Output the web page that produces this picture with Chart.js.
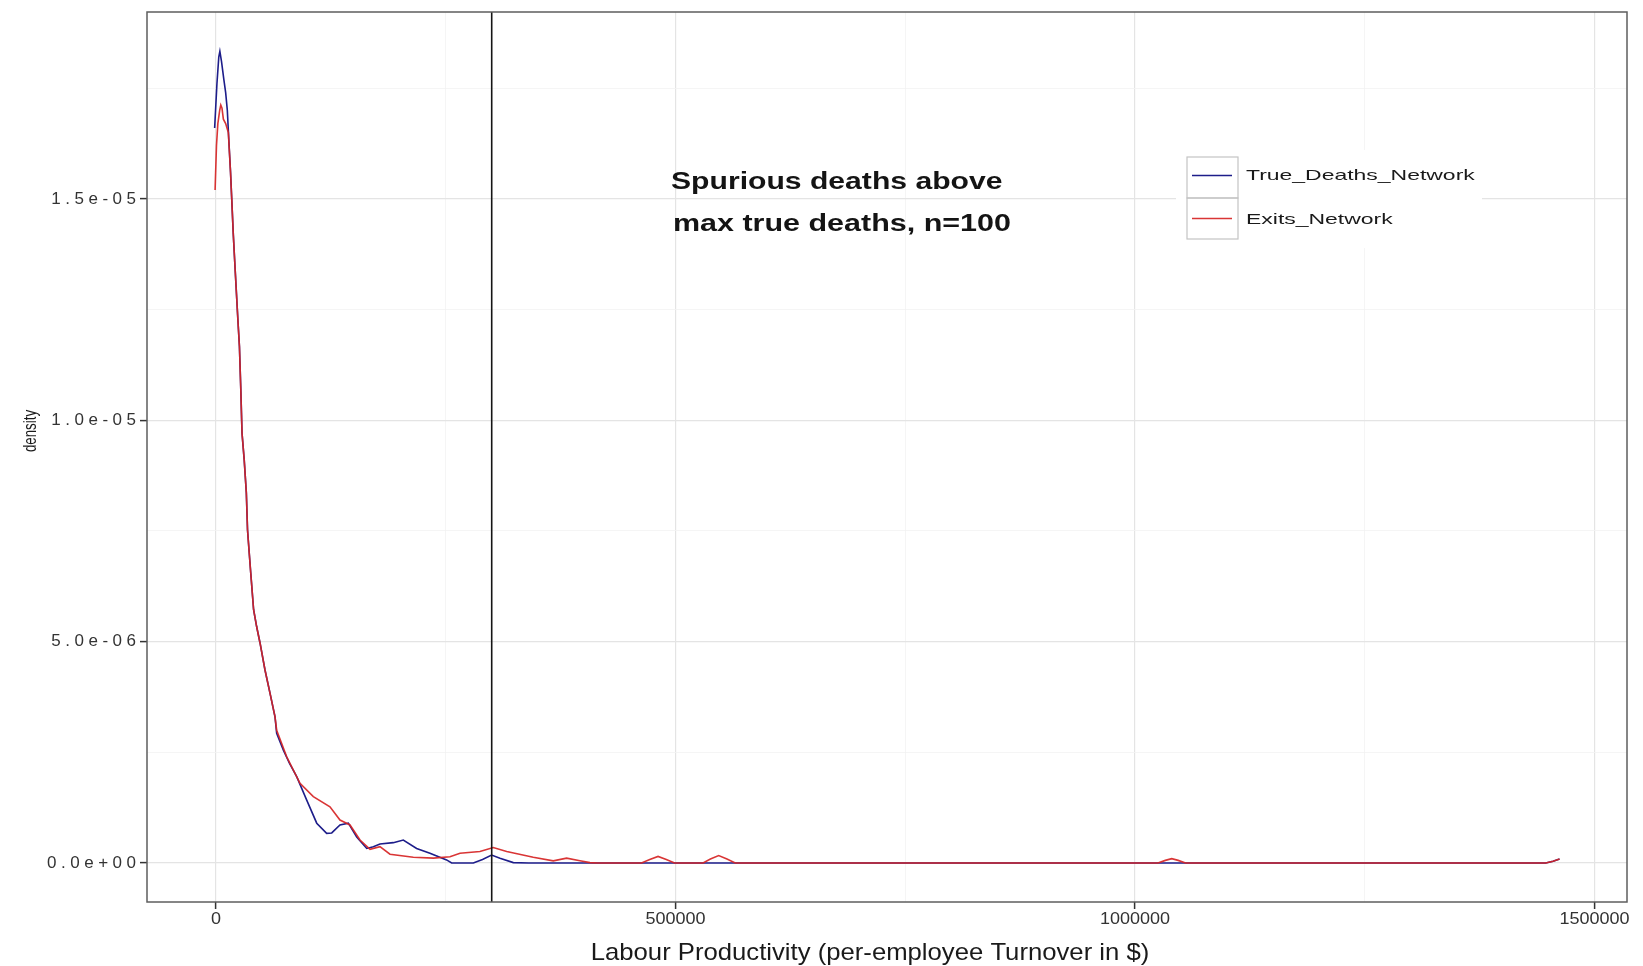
<!DOCTYPE html>
<html>
<head>
<meta charset="utf-8">
<script src="https://cdn.jsdelivr.net/npm/chart.js@4.4.1/dist/chart.umd.min.js"></script>
<style>
  html, body { margin: 0; padding: 0; background: #ffffff; }
  #wrap { width: 1643px; height: 966px; }
</style>
</head>
<body>
<div id="wrap"><canvas id="c" width="1643" height="966"></canvas></div>
<script>
// ---------- DATA ----------
const seriesNames = ['True_Deaths_Network', 'Exits_Network'];

// True_Deaths_Network density curve (density in units of 1e-6)
const trueDeathsX = [-1500, 1000, 3000, 4200, 6000, 8500, 10500, 12300, 14000, 15800, 17100, 18800, 20700, 23800, 25500, 27000, 28300, 30700, 33000, 34300, 35900, 37800, 40900, 44300, 47900, 53300, 58800, 64200, 66000, 73300, 80000, 87800, 98700, 109600, 120400, 125900, 134900, 144000, 153100, 164000, 171200, 178400, 192900, 203800, 218300, 232800, 250900, 256400, 280000, 290000, 299900, 309000, 323500, 340000, 1447000, 1455000, 1462000];
const trueDeathsY = [16.6, 17.6, 18.2, 18.33, 18.1, 17.7, 17.4, 17.0, 16.3, 15.6, 15.0, 14.2, 13.45, 12.27, 11.66, 10.68, 9.71, 9.10, 8.36, 7.52, 7.07, 6.55, 5.72, 5.33, 4.97, 4.36, 3.83, 3.30, 2.93, 2.55, 2.25, 1.95, 1.42, 0.90, 0.67, 0.68, 0.86, 0.90, 0.59, 0.33, 0.37, 0.43, 0.46, 0.52, 0.33, 0.22, 0.07, 0.0, 0.0, 0.08, 0.18, 0.11, 0.01, 0.0, 0.0, 0.04, 0.09];

// Exits_Network density curve (density in units of 1e-6)
const exitsX = [-1000, 500, 2000, 4000, 5200, 6500, 8000, 10500, 13400, 15800, 17100, 18800, 20700, 23800, 25500, 27000, 28300, 30700, 33000, 34300, 35900, 37800, 40900, 44300, 47900, 53300, 58800, 64200, 66000, 76900, 91400, 105900, 124000, 134900, 145800, 156700, 167600, 178400, 189300, 214700, 236500, 254600, 265500, 287200, 301700, 316300, 345200, 367000, 381500, 396000, 406900, 415000, 463000, 472000, 481000, 490000, 499000, 530000, 538000, 547000, 556000, 565000, 1025000, 1033000, 1040000, 1047000, 1055000, 1447000, 1455000, 1462000];
const exitsY = [15.2, 16.2, 16.7, 17.0, 17.12, 17.05, 16.8, 16.7, 16.5, 15.6, 15.0, 14.2, 13.45, 12.27, 11.66, 10.68, 9.71, 9.10, 8.36, 7.52, 7.07, 6.55, 5.72, 5.33, 4.97, 4.36, 3.83, 3.30, 3.00, 2.40, 1.80, 1.50, 1.27, 0.97, 0.86, 0.52, 0.31, 0.37, 0.20, 0.13, 0.11, 0.14, 0.22, 0.26, 0.35, 0.26, 0.13, 0.05, 0.11, 0.05, 0.01, 0.0, 0.0, 0.08, 0.15, 0.08, 0.0, 0.0, 0.09, 0.17, 0.09, 0.0, 0.0, 0.06, 0.10, 0.06, 0.0, 0.0, 0.04, 0.09];
const densityUnit = 1e-6;

// axis ticks / grid
const xTickValues = [0, 500000, 1000000, 1500000];
const xTickLabels = ['0', '500000', '1000000', '1500000'];
const xMinorValues = [250000, 750000, 1250000];
const yTickValues = [0, 5e-6, 1e-5, 1.5e-5];
const yTickLabels = ['0.0e+00', '5.0e-06', '1.0e-05', '1.5e-05'];
const yMinorValues = [2.5e-6, 7.5e-6, 1.25e-5, 1.75e-5];
const xRange = [-75100, 1535400];
const yRange = [-0.88e-6, 19.22e-6];

const cutoffX = 300000;
const annotationLines = ['Spurious deaths above', 'max true deaths, n=100'];
const xTitle = 'Labour Productivity (per-employee Turnover in $)';
const yTitle = 'density';

// ---------- STYLE ----------
const BLUE = '#1d1d8a';
const RED = 'rgba(214,36,36,0.92)';
const FONT = '"Liberation Sans", Arial, sans-serif';

function toPoints(xs, ys) { return xs.map((x, i) => ({ x: x, y: ys[i] * densityUnit })); }

function drawText(ctx, text, x, y, o) {
  ctx.save();
  ctx.font = o.font;
  ctx.fillStyle = o.color || '#000';
  ctx.textBaseline = o.baseline || 'middle';
  ctx.translate(x, y);
  if (o.rotate) ctx.rotate(o.rotate);
  ctx.scale(o.sx || 1, 1);
  const sp = o.spacing || 0;
  const chars = Array.from(text);
  const ws = chars.map(ch => ctx.measureText(ch).width);
  let w = sp ? ws.reduce((a, b) => a + b, 0) + sp * (chars.length - 1) : ctx.measureText(text).width;
  let start = o.align === 'right' ? -w : (o.align === 'center' ? -w / 2 : 0);
  ctx.textAlign = 'left';
  if (!sp) {
    ctx.fillText(text, start, 0);
  } else {
    let cx = start;
    chars.forEach((ch, i) => { ctx.fillText(ch, cx, 0); cx += ws[i] + sp; });
  }
  ctx.restore();
}

const decorPlugin = {
  id: 'decor',
  afterDatasetsDraw(chart) {
    const ctx = chart.ctx, a = chart.chartArea;
    const xs = chart.scales.x;
    // vertical cutoff line
    const vx = xs.getPixelForValue(cutoffX);
    ctx.save();
    ctx.strokeStyle = '#151515';
    ctx.lineWidth = 1.6;
    ctx.beginPath(); ctx.moveTo(vx, a.top); ctx.lineTo(vx, a.bottom); ctx.stroke();
    // panel border
    ctx.strokeStyle = '#5e5e5e';
    ctx.lineWidth = 1.5;
    ctx.strokeRect(a.left, a.top, a.right - a.left, a.bottom - a.top);
    ctx.restore();
  },
  afterDraw(chart) {
    const ctx = chart.ctx;
    const xs = chart.scales.x, ys = chart.scales.y;
    // tick labels
    yTickValues.forEach((v, i) => {
      drawText(ctx, yTickLabels[i], 136, ys.getPixelForValue(v), { font: '17px ' + FONT, color: '#333333', align: 'right', spacing: 4.5 });
    });
    xTickValues.forEach((v, i) => {
      drawText(ctx, xTickLabels[i], xs.getPixelForValue(v), 919, { font: '17px ' + FONT, color: '#333333', align: 'center', sx: 1.06 });
    });
    // axis titles
    drawText(ctx, xTitle, 870, 953, { font: '24px ' + FONT, color: '#1a1a1a', align: 'center', sx: 1.07 });
    drawText(ctx, yTitle, 31, 431, { font: '18px ' + FONT, color: '#1a1a1a', align: 'center', rotate: -Math.PI / 2, sx: 0.74 });
    // annotation
    drawText(ctx, annotationLines[0], 671, 183, { font: 'bold 23px ' + FONT, color: '#141414', align: 'left', sx: 1.31 });
    drawText(ctx, annotationLines[1], 673, 225, { font: 'bold 23px ' + FONT, color: '#141414', align: 'left', sx: 1.325 });
    // legend
    ctx.save();
    ctx.fillStyle = '#ffffff';
    ctx.fillRect(1176, 150, 306, 98);
    ctx.strokeStyle = '#c4c4c4';
    ctx.lineWidth = 1.2;
    ctx.strokeRect(1187, 157, 51, 41);
    ctx.strokeRect(1187, 198, 51, 41);
    ctx.lineWidth = 1.6;
    ctx.strokeStyle = BLUE;
    ctx.beginPath(); ctx.moveTo(1192, 175.5); ctx.lineTo(1232, 175.5); ctx.stroke();
    ctx.strokeStyle = RED;
    ctx.beginPath(); ctx.moveTo(1192, 218.5); ctx.lineTo(1232, 218.5); ctx.stroke();
    ctx.restore();
    drawText(ctx, seriesNames[0], 1246, 176, { font: '15px ' + FONT, color: '#1a1a1a', align: 'left', sx: 1.53 });
    drawText(ctx, seriesNames[1], 1246, 220, { font: '15px ' + FONT, color: '#1a1a1a', align: 'left', sx: 1.53 });
  }
};

const xGrid = xTickValues.concat(xMinorValues).sort((a, b) => a - b);
const yGrid = yTickValues.concat(yMinorValues).sort((a, b) => a - b);
const isMajor = (list, v) => list.some(t => Math.abs(t - v) < 1e-12 || (Math.abs(t) > 1 && Math.abs(t - v) < 1));

new Chart(document.getElementById('c').getContext('2d'), {
  type: 'scatter',
  data: {
    datasets: [
      { label: seriesNames[1], data: toPoints(exitsX, exitsY), showLine: true, borderColor: RED, borderWidth: 1.6, pointRadius: 0, tension: 0, order: 0 },
      { label: seriesNames[0], data: toPoints(trueDeathsX, trueDeathsY), showLine: true, borderColor: BLUE, borderWidth: 1.6, pointRadius: 0, tension: 0, order: 1 }
    ]
  },
  options: {
    responsive: false,
    animation: false,
    devicePixelRatio: 1,
    layout: { padding: { left: 0, right: 16, top: 12, bottom: 0 } },
    plugins: { legend: { display: false }, tooltip: { enabled: false } },
    scales: {
      x: {
        type: 'linear', min: xRange[0], max: xRange[1],
        afterBuildTicks: s => { s.ticks = xGrid.map(v => ({ value: v })); },
        afterFit: s => { s.height = 64; },
        ticks: { display: false },
        border: { display: false },
        grid: {
          color: c => isMajor(xTickValues, c.tick.value) ? '#e4e4e4' : '#f3f3f3',
          lineWidth: c => isMajor(xTickValues, c.tick.value) ? 1.2 : 0.8,
          drawTicks: true, tickLength: 7,
          tickColor: c => isMajor(xTickValues, c.tick.value) ? '#333333' : 'rgba(0,0,0,0)',
          tickWidth: 1.5
        }
      },
      y: {
        type: 'linear', min: yRange[0], max: yRange[1],
        afterBuildTicks: s => { s.ticks = yGrid.map(v => ({ value: v })); },
        afterFit: s => { s.width = 147; },
        ticks: { display: false },
        border: { display: false },
        grid: {
          color: c => isMajor(yTickValues, c.tick.value) ? '#e4e4e4' : '#f3f3f3',
          lineWidth: c => isMajor(yTickValues, c.tick.value) ? 1.2 : 0.8,
          drawTicks: true, tickLength: 7,
          tickColor: c => isMajor(yTickValues, c.tick.value) ? '#333333' : 'rgba(0,0,0,0)',
          tickWidth: 1.5
        }
      }
    }
  },
  plugins: [decorPlugin]
});
</script>
</body>
</html>
